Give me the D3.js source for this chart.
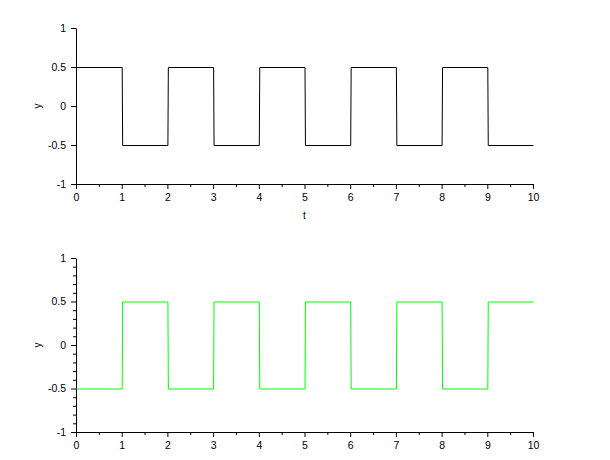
<!DOCTYPE html>
<html>
<head>
<meta charset="utf-8">
<script src="https://cdn.jsdelivr.net/npm/d3@7"></script>
<style>
  html, body { margin: 0; padding: 0; background: #fff; }
  svg { display: block; }
  text { font-family: "Liberation Sans", Arial, Helvetica, sans-serif; }
</style>
</head>
<body>
<svg id="chart" width="610" height="460"></svg>
<script>
// ---- data ----
const tTop = [0, 1, 1.01, 2, 2.01, 3, 3.01, 4, 4.01, 5, 5.01, 6, 6.01, 7, 7.01, 8, 8.01, 9, 9.01, 10];
const yTop = [0.5, 0.5, -0.5, -0.5, 0.5, 0.5, -0.5, -0.5, 0.5, 0.5, -0.5, -0.5, 0.5, 0.5, -0.5, -0.5, 0.5, 0.5, -0.5, -0.5];
const tBottom = [0, 1, 1.01, 2, 2.01, 3, 3.01, 4, 4.01, 5, 5.01, 6, 6.01, 7, 7.01, 8, 8.01, 9, 9.01, 10];
const yBottom = [-0.5, -0.5, 0.5, 0.5, -0.5, -0.5, 0.5, 0.5, -0.5, -0.5, 0.5, 0.5, -0.5, -0.5, 0.5, 0.5, -0.5, -0.5, 0.5, 0.5];
const xTicks = [0, 1, 2, 3, 4, 5, 6, 7, 8, 9, 10];
const xTickLabels = ["0", "1", "2", "3", "4", "5", "6", "7", "8", "9", "10"];
const xMinorTicks = [0.5, 1.5, 2.5, 3.5, 4.5, 5.5, 6.5, 7.5, 8.5, 9.5];
const yTicks = [-1, -0.5, 0, 0.5, 1];
const yTickLabels = ["-1", "-0.5", "0", "0.5", "1"];
const yMinorTicksBottom = [-0.9, -0.8, -0.7, -0.6, -0.4, -0.3, -0.2, -0.1, 0.1, 0.2, 0.3, 0.4, 0.6, 0.7, 0.8, 0.9];

const svg = d3.select("#chart");

function panel(cfg) {
  const x = d3.scaleLinear().domain([0, 10]).range([cfg.left, cfg.right]);
  const y = d3.scaleLinear().domain([-1, 1]).range([cfg.bottom, cfg.top]);
  const g = svg.append("g");

  // x axis
  g.append("g").attr("transform", `translate(0,${cfg.bottom})`)
    .call(d3.axisBottom(x).tickValues(xTicks).tickSizeInner(5).tickSizeOuter(0).tickPadding(5)
      .tickFormat((d, i) => xTickLabels[i]));
  g.append("g").attr("transform", `translate(0,${cfg.bottom})`)
    .call(d3.axisBottom(x).tickValues(xMinorTicks).tickSizeInner(3).tickSizeOuter(0).tickFormat(""))
    .select(".domain").remove();

  // y axis
  g.append("g").attr("transform", `translate(${cfg.left},0)`)
    .call(d3.axisLeft(y).tickValues(yTicks).tickSizeInner(5).tickSizeOuter(0).tickPadding(5)
      .tickFormat((d, i) => yTickLabels[i]));
  if (cfg.yMinor) {
    g.append("g").attr("transform", `translate(${cfg.left},0)`)
      .call(d3.axisLeft(y).tickValues(cfg.yMinor).tickSizeInner(3).tickSizeOuter(0).tickFormat(""))
      .select(".domain").remove();
  }

  g.selectAll(".tick text").attr("font-size", 10.5).attr("fill", "#000")
    .attr("font-family", "'Liberation Sans', Arial, sans-serif");
  g.selectAll(".domain, .tick line").attr("stroke", "#000").attr("stroke-width", 1);

  // line
  const pts = cfg.t.map((t, i) => [t, cfg.v[i]]);
  g.append("path").datum(pts)
    .attr("transform", "translate(0.5,0.5)")
    .attr("fill", "none").attr("stroke", cfg.color).attr("stroke-width", 1)
    .attr("d", d3.line().x(d => x(d[0])).y(d => y(d[1])));

  // y label
  g.append("text").attr("transform", `translate(${cfg.left - 39},${(cfg.top + cfg.bottom) / 2}) rotate(-90)`)
    .attr("text-anchor", "middle").attr("dominant-baseline", "central")
    .attr("font-size", 10).text("y");
  if (cfg.xlabel) {
    g.append("text").attr("x", (cfg.left + cfg.right) / 2).attr("y", cfg.bottom + 35)
      .attr("text-anchor", "middle").attr("font-size", 10).text(cfg.xlabel);
  }
}

panel({ left: 76, right: 533, top: 28, bottom: 184, t: tTop, v: yTop, color: "#000000", xlabel: "t" });
panel({ left: 76, right: 533, top: 258, bottom: 432, t: tBottom, v: yBottom, color: "#00ff00", yMinor: yMinorTicksBottom });
</script>
</body>
</html>
